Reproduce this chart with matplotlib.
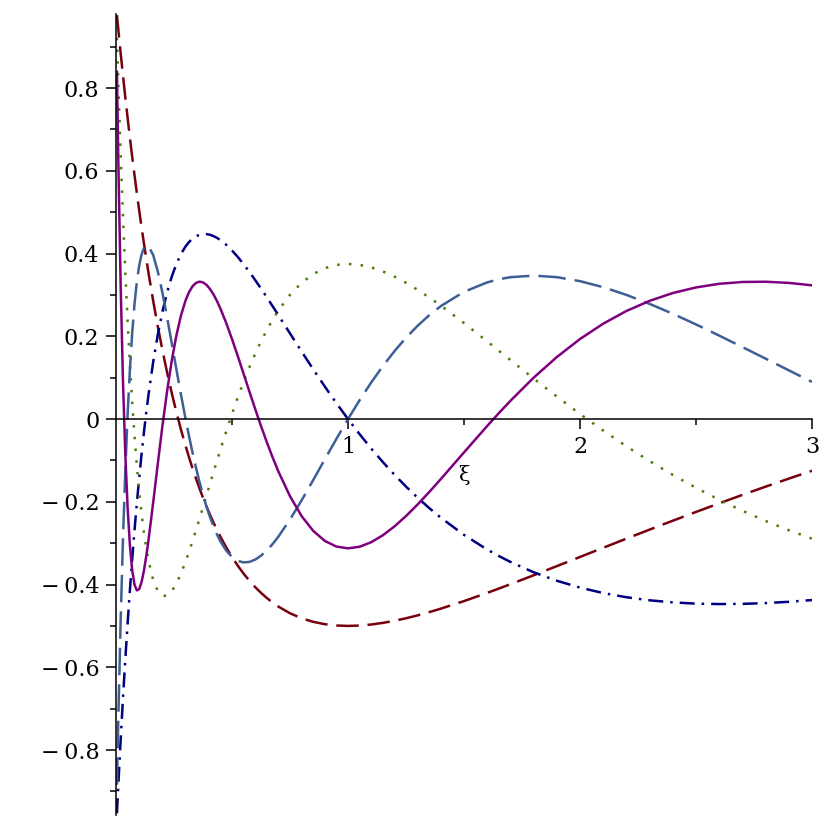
import numpy as np
import matplotlib.pyplot as plt

plt.rcParams['font.family'] = ['DejaVu Serif']

# sample points along xi (denser near 0 where the curves oscillate fast)
xi = [0.004, 0.01, 0.02, 0.03, 0.04, 0.05, 0.06, 0.07, 0.08, 0.09,
      0.10, 0.11, 0.12, 0.13, 0.14, 0.16, 0.18, 0.20, 0.22, 0.24,
      0.26, 0.28, 0.30, 0.315, 0.33, 0.345, 0.36, 0.375, 0.39, 0.405,
      0.42, 0.435, 0.45, 0.475, 0.50, 0.525, 0.55, 0.575, 0.60, 0.625,
      0.65, 0.675, 0.70, 0.75, 0.80, 0.85, 0.90, 0.95, 1.00, 1.05,
      1.10, 1.15, 1.20, 1.25, 1.30, 1.35, 1.40, 1.50, 1.60, 1.65,
      1.70, 1.80, 1.90, 2.00, 2.10, 2.20, 2.30, 2.40, 2.50, 2.60,
      2.70, 2.80, 2.90, 3.00]

# dark red long dash
p2 = [0.9762, 0.9412, 0.8847, 0.8303, 0.7781, 0.7279, 0.6796, 0.6332, 0.5885, 0.5455,
      0.5041, 0.4643, 0.4260, 0.3891, 0.3536, 0.2866, 0.2244, 0.1667, 0.1131, 0.0635,
      0.0174, -0.0254, -0.0651, -0.0930, -0.1193, -0.1443, -0.1678, -0.1901, -0.2111, -0.2310,
      -0.2498, -0.2675, -0.2842, -0.3100, -0.3333, -0.3545, -0.3736, -0.3908, -0.4063, -0.4201,
      -0.4325, -0.4435, -0.4533, -0.4694, -0.4815, -0.4901, -0.4958, -0.4990, -0.5000, -0.4991,
      -0.4966, -0.4927, -0.4876, -0.4815, -0.4745, -0.4667, -0.4583, -0.4400, -0.4201, -0.4098,
      -0.3992, -0.3776, -0.3555, -0.3333, -0.3111, -0.2891, -0.2672, -0.2457, -0.2245, -0.2037,
      -0.1833, -0.1634, -0.1440, -0.1250]

# navy dash-dot
p3 = [-0.9527, -0.8841, -0.7761, -0.6754, -0.5817, -0.4944, -0.4132, -0.3377, -0.2676, -0.2024,
      -0.1420, -0.0860, -0.0341, 0.0139, 0.0583, 0.1369, 0.2034, 0.2593, 0.3057, 0.3438,
      0.3745, 0.3988, 0.4174, 0.4280, 0.4360, 0.4418, 0.4453, 0.4470, 0.4470, 0.4454,
      0.4423, 0.4380, 0.4325, 0.4212, 0.4074, 0.3917, 0.3743, 0.3556, 0.3359, 0.3154,
      0.2943, 0.2728, 0.2510, 0.2070, 0.1632, 0.1203, 0.0786, 0.0384, 0.0000, -0.0365,
      -0.0712, -0.1038, -0.1345, -0.1632, -0.1901, -0.2151, -0.2384, -0.2800, -0.3154, -0.3310,
      -0.3453, -0.3703, -0.3908, -0.4074, -0.4206, -0.4307, -0.4381, -0.4431, -0.4461, -0.4472,
      -0.4467, -0.4448, -0.4417, -0.4375]

# green dotted
p4 = [0.9217, 0.8107, 0.6414, 0.4904, 0.3561, 0.2369, 0.1316, 0.0389, -0.0424, -0.1134,
      -0.1748, -0.2276, -0.2727, -0.3106, -0.3422, -0.3884, -0.4157, -0.4275, -0.4269, -0.4163,
      -0.3980, -0.3735, -0.3445, -0.3204, -0.2949, -0.2683, -0.2409, -0.2130, -0.1849, -0.1568,
      -0.1289, -0.1012, -0.0740, -0.0299, 0.0123, 0.0524, 0.0900, 0.1251, 0.1577, 0.1877,
      0.2151, 0.2400, 0.2625, 0.3003, 0.3294, 0.3505, 0.3646, 0.3725, 0.3750, 0.3728,
      0.3665, 0.3569, 0.3443, 0.3294, 0.3125, 0.2940, 0.2742, 0.2320, 0.1877, 0.1652,
      0.1427, 0.0980, 0.0544, 0.0123, -0.0278, -0.0658, -0.1016, -0.1350, -0.1662, -0.1950,
      -0.2217, -0.2462, -0.2686, -0.2891]

# steel blue dashed
p5 = [-0.8838, -0.7230, -0.4884, -0.2910, -0.1263, 0.0097, 0.1205, 0.2094, 0.2792, 0.3323,
      0.3710, 0.3973, 0.4129, 0.4193, 0.4180, 0.3968, 0.3572, 0.3056, 0.2467, 0.1843,
      0.1211, 0.0592, 0.0000, -0.0419, -0.0814, -0.1182, -0.1522, -0.1833, -0.2115, -0.2367,
      -0.2591, -0.2787, -0.2955, -0.3178, -0.3333, -0.3427, -0.3465, -0.3453, -0.3397, -0.3303,
      -0.3176, -0.3021, -0.2841, -0.2428, -0.1965, -0.1474, -0.0974, -0.0479, 0.0000, 0.0456,
      0.0883, 0.1279, 0.1639, 0.1965, 0.2254, 0.2509, 0.2730, 0.3075, 0.3303, 0.3378,
      0.3429, 0.3466, 0.3430, 0.3333, 0.3187, 0.3001, 0.2784, 0.2544, 0.2287, 0.2017,
      0.1740, 0.1460, 0.1178, 0.0898]

# purple solid
p6 = [0.8392, 0.6237, 0.3257, 0.0937, -0.0830, -0.2135, -0.3056, -0.3661, -0.4006, -0.4141,
      -0.4109, -0.3943, -0.3675, -0.3330, -0.2930, -0.2030, -0.1087, -0.0172, 0.0665, 0.1399,
      0.2013, 0.2503, 0.2871, 0.3071, 0.3210, 0.3291, 0.3321, 0.3303, 0.3243, 0.3145,
      0.3014, 0.2855, 0.2671, 0.2323, 0.1934, 0.1521, 0.1094, 0.0665, 0.0243, -0.0167,
      -0.0558, -0.0926, -0.1268, -0.1866, -0.2345, -0.2702, -0.2945, -0.3082, -0.3125, -0.3086,
      -0.2977, -0.2810, -0.2596, -0.2345, -0.2065, -0.1765, -0.1451, -0.0806, -0.0167, 0.0142,
      0.0440, 0.0999, 0.1498, 0.1934, 0.2305, 0.2612, 0.2857, 0.3046, 0.3181, 0.3269,
      0.3313, 0.3319, 0.3291, 0.3232]

ytick_vals = [-0.8, -0.6, -0.4, -0.2, 0.0, 0.2, 0.4, 0.6, 0.8]
ytick_labels = ['\u2212\u20090.8', '\u2212\u20090.6', '\u2212\u20090.4', '\u2212\u20090.2', '0',
                '0.2', '0.4', '0.6', '0.8']
xtick_vals = [1, 2, 3]
xtick_labels = ['1', '2', '3']

fig = plt.figure(figsize=(8.3, 8.3), dpi=100)
ax = fig.add_axes([116/830, 1 - 815/830, 696/830, 801/830])

lw = 1.8
ax.plot(xi, p2, color='#78000e', lw=lw, dashes=(9, 3.5))
ax.plot(xi, p3, color='#000080', lw=lw, dashes=(6, 2.8, 1, 2.8))
ax.plot(xi, p4, color='#4a7d08', lw=lw, dashes=(1, 3.7))
ax.plot(xi, p5, color='#3e5f96', lw=lw, dashes=(11, 3.6))
ax.plot(xi, p6, color='#7f007f', lw=lw)

ax.set_xlim(0, 3)
ax.set_ylim(-0.957, 0.979)

# axes cross at the origin, maple style
ax.spines['left'].set_position(('data', 0))
ax.spines['bottom'].set_position(('data', 0))
ax.spines['top'].set_visible(False)
ax.spines['right'].set_visible(False)
for s in ['left', 'bottom']:
    ax.spines[s].set_linewidth(1.1)

ax.set_xticks(xtick_vals)
ax.set_xticklabels(xtick_labels)
ax.set_xticks([0.5, 1.5, 2.5], minor=True)
ax.set_yticks(ytick_vals)
ax.set_yticklabels(ytick_labels)
ax.set_yticks([-0.9, -0.7, -0.5, -0.3, -0.1, 0.1, 0.3, 0.5, 0.7, 0.9], minor=True)
ax.tick_params(which='major', length=7, width=1.1, labelsize=16, pad=5)
ax.tick_params(which='minor', length=4, width=1.1)

ax.set_xlabel('\u03be', fontsize=15)
ax.xaxis.set_label_coords(0.5, 0.437)

fig.savefig('out.png', dpi=100)
